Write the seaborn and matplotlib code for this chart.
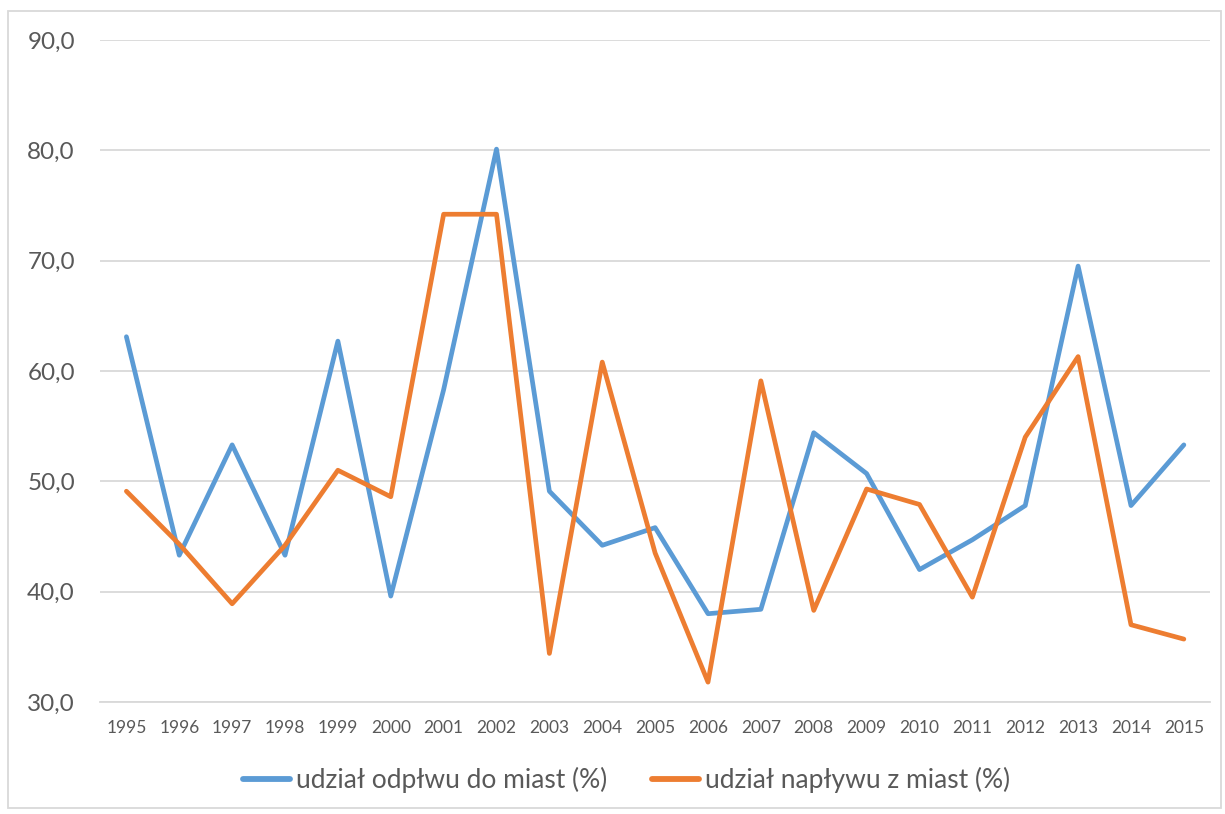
import seaborn as sns
import matplotlib.pyplot as plt
import matplotlib.patches as mpatches
import pandas as pd

years = [str(y) for y in range(1995, 2016)]

# udzial odplywu do miast (%)
odplyw = [63.1, 43.3, 53.3, 43.3, 62.7, 39.6, 58.3, 80.1, 49.1, 44.2, 45.8,
          38.0, 38.4, 54.4, 50.7, 42.0, 44.7, 47.8, 69.5, 47.8, 53.3]
# udzial naplywu z miast (%)
naplyw = [49.1, 44.3, 38.9, 44.2, 51.0, 48.6, 74.2, 74.2, 34.4, 60.8, 43.5,
          31.8, 59.1, 38.3, 49.3, 47.9, 39.5, 54.0, 61.3, 37.0, 35.7]

series_names = ['udział odpłwu do miast (%)', 'udział napływu z miast (%)']
colors = ['#5B9BD5', '#ED7D31']

df = pd.DataFrame({'rok': years * 2,
                   'wartosc': odplyw + naplyw,
                   'seria': [series_names[0]] * len(years) + [series_names[1]] * len(years)})

sns.set_style('white')
plt.rcParams['font.family'] = ['Lato', 'DejaVu Sans']

fig = plt.figure(figsize=(12.25, 8.14), dpi=100)
ax = fig.add_axes([0.0816, 0.1376, 0.9064, 0.8134])

sns.lineplot(data=df, x='rok', y='wartosc', hue='seria', palette=colors,
             linewidth=3.4, ax=ax, sort=False)

ax.set_ylim(30, 90)
ax.set_yticks(range(30, 91, 10))
ax.set_yticklabels([f'{v},0' for v in range(30, 91, 10)], fontsize=17.5, color='#595959')
ax.set_xlim(-0.5, len(years) - 0.5)
ax.tick_params(axis='x', labelsize=12.5, colors='#595959', length=0, pad=13)
ax.tick_params(axis='y', length=0, pad=18)
ax.grid(axis='y', color='#D9D9D9', linewidth=1.3)
ax.set_axisbelow(True)
for s in ['top', 'right', 'left']:
    ax.spines[s].set_visible(False)
ax.spines['bottom'].set_color('#D9D9D9')
ax.spines['bottom'].set_linewidth(1.3)
ax.set_xlabel('')
ax.set_ylabel('')

leg = ax.legend(loc='center', bbox_to_anchor=(0.474, -0.118), ncol=2, frameon=False,
                fontsize=19, handlelength=1.8, handletextpad=0.2, columnspacing=1.7)
for t in leg.get_texts():
    t.set_color('#595959')
for h in leg.get_lines():
    h.set_linewidth(4.2)

# outer chart border
fig.patches.append(mpatches.Rectangle((8 / 1225, 6 / 814), 1213 / 1225, 797 / 814,
                                      transform=fig.transFigure, fill=False,
                                      edgecolor='#D9D9D9', linewidth=1.3))

plt.savefig('out.png', dpi=100)
